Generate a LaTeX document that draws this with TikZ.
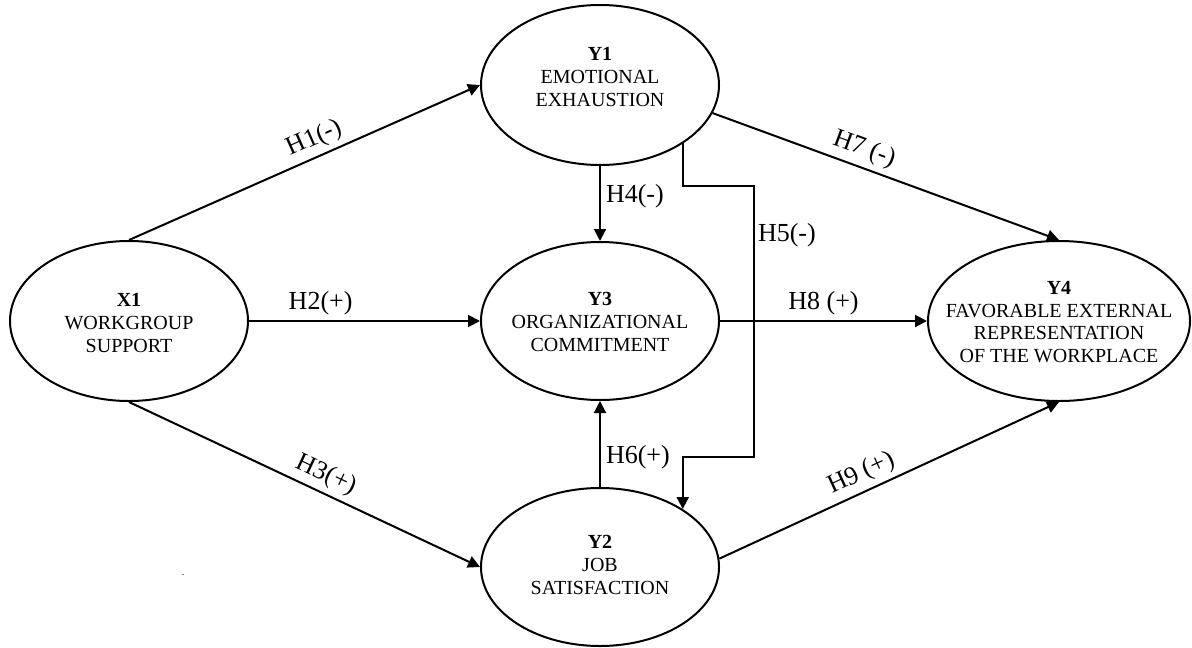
\documentclass[tikz,border=0pt]{standalone}
\usepackage{fontspec}
\setmainfont{Liberation Serif}
\usetikzlibrary{arrows.meta,shapes.geometric}
\begin{document}
\begin{tikzpicture}[x=0.5pt,y=-0.5pt,
  ell/.style={draw,line width=1pt,ellipse,inner sep=0pt,minimum width=119pt,minimum height=80pt},
  txt/.style={align=center,font=\fontsize{10}{11.4}\selectfont,inner sep=0pt},
  arr/.style={line width=1pt,-{Triangle[length=6pt,width=6pt]}},
  lab/.style={font=\fontsize{13}{14}\selectfont,inner sep=2.5pt}]
\useasboundingbox (0,0) rectangle (1192,647);
\node[ell] (x1) at (129,321) {};
\node[txt] (x1t) at (129,323) {\textbf{X1}\\WORKGROUP\\SUPPORT};
\node[ell] (y1) at (600,85) {};
\node[txt] (y1t) at (600,77) {\textbf{Y1}\\EMOTIONAL\\EXHAUSTION};
\node[ell,minimum height=79pt] (y3) at (600,321) {};
\node[txt] (y3t) at (600,322) {\textbf{Y3}\\ORGANIZATIONAL\\COMMITMENT};
\node[ell,minimum height=79pt] (y2) at (600,567) {};
\node[txt] (y2t) at (600,565) {\textbf{Y2}\\JOB\\SATISFACTION};
\node[ell,minimum width=131pt] (y4) at (1059,321) {};
\node[txt] (y4t) at (1059,322) {\textbf{Y4}\\FAVORABLE EXTERNAL\\REPRESENTATION\\OF THE WORKPLACE};
\coordinate (h5a) at (754,186);
\coordinate (h5b) at (754,457);
\draw[arr] (x1.north) -- node[lab,pos=0.55,sloped,above] {H1(-)} (y1.west);
\draw[arr] (x1.east) -- node[lab,pos=0.31,above] {H2(+)} (y3.west);
\draw[arr] (x1.south) -- node[lab,pos=0.54,sloped,above] {H3(+)} (y2.west);
\draw[arr] (y1.south) -- node[lab,pos=0.4,right] {H4(-)} (y3.north);
\draw[arr] (y2.north) -- node[lab,pos=0.35,right] {H6(+)} (y3.south);
\draw[arr] (y1.-35) |- (h5a) -- node[lab,pos=0.18,right,inner sep=1.5pt] {H5(-)} (h5b) -| (y2.35);
\draw[arr] (y1.-14) -- node[lab,pos=0.42,sloped,above] {H7 (-)} (y4.north);
\draw[arr] (y3.east) -- node[lab,pos=0.5,above] {H8 (+)} (y4.west);
\draw[arr] (y2.4) -- node[lab,pos=0.44,sloped,above] {H9 (+)} (y4.south);
\node[inner sep=0pt,font=\tiny] (dot) at (183,575) {.};
\end{tikzpicture}
\end{document}
